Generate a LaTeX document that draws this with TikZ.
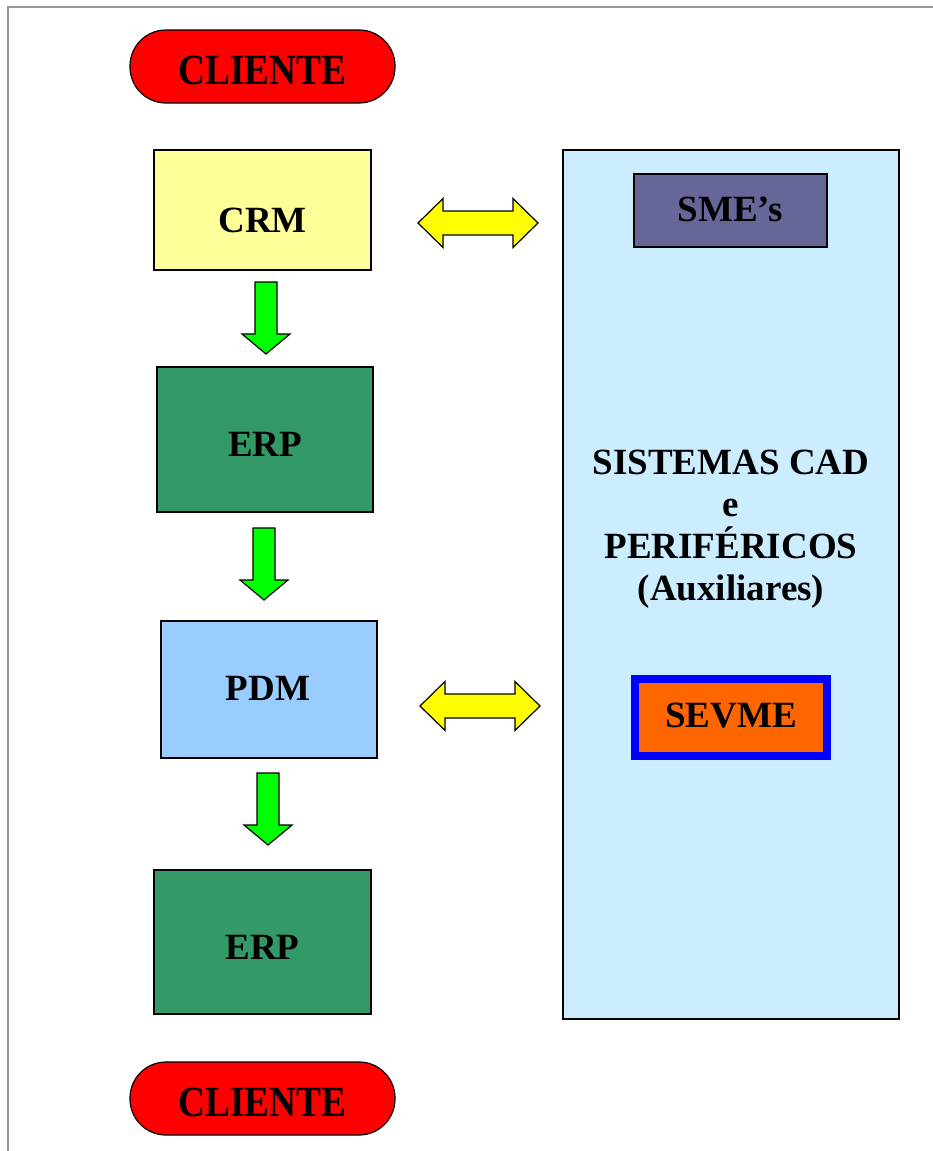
\documentclass[tikz,border=0pt]{standalone}
\usepackage{fontspec}
\setmainfont{Liberation Serif}
\usepackage{graphicx}
\definecolor{cliente}{HTML}{FF0000}
\definecolor{crm}{HTML}{FFFF99}
\definecolor{erp}{HTML}{339966}
\definecolor{pdm}{HTML}{99CCFF}
\definecolor{cadbox}{HTML}{CCECFF}
\definecolor{sme}{HTML}{666699}
\definecolor{sevme}{HTML}{FF6600}
\definecolor{sevmeb}{HTML}{0000FF}
\definecolor{garrow}{HTML}{00FF00}
\definecolor{yarrow}{HTML}{FFFF00}
\definecolor{frame}{HTML}{999999}
\tikzset{
  lbl/.style={font=\fontsize{37}{42}\selectfont\bfseries},
  box/.style={draw=black, line width=1.2pt, inner sep=0pt, lbl},
  pill/.style={box, rounded corners=36pt, fill=cliente, minimum width=265pt, minimum height=73pt},
  downarr/.style={draw=black, line width=1.2pt, fill=garrow, line join=miter},
  dblarr/.style={draw=black, line width=1.2pt, fill=yarrow, line join=miter},
  pics/downblock/.style={code={
    \path[downarr] (-11,0) -- (11,0) -- (11,52) -- (24,52) -- (0,72) -- (-24,52) -- (-11,52) -- cycle;
  }},
  pics/dblblock/.style={code={
    \path[dblarr] (0,0) -- (25,-24.5) -- (25,-12) -- (95,-12) -- (95,-24.5) -- (120,0)
      -- (95,24.5) -- (95,12) -- (25,12) -- (25,24.5) -- cycle;
  }}
}
\begin{document}
\begin{tikzpicture}[x=1pt,y=-1pt]
\useasboundingbox (0,0) rectangle (933,1151);
\draw[frame, line width=1.5pt] (8,1151) -- (8,7) -- (933,7);

\node[pill] (c1) at (262.5,66.5) {};
\node (c1t) at (262.5,70) {\scalebox{0.87}[1]{\fontsize{43}{43}\selectfont\bfseries CLIENTE}};
\node[pill] (c2) at (262.5,1098.5) {};
\node (c2t) at (262.5,1102) {\scalebox{0.87}[1]{\fontsize{43}{43}\selectfont\bfseries CLIENTE}};

\node[box, fill=crm, minimum width=217pt, minimum height=120pt] (crm) at (262.5,210) {};
\node[lbl] (crmt) at (262.5,220) {CRM};
\node[box, fill=erp, minimum width=216pt, minimum height=145pt] (erp1) at (265,439.5) {};
\node[lbl] (erp1t) at (265,444) {ERP};
\node[box, fill=pdm, minimum width=216pt, minimum height=137pt] (pdm) at (269,689.5) {};
\node[lbl] (pdmt) at (268,688) {PDM};
\node[box, fill=erp, minimum width=217pt, minimum height=144pt] (erp2) at (262.5,942) {};
\node[lbl] (erp2t) at (262.5,947) {ERP};

\node[box, fill=cadbox, minimum width=336pt, minimum height=869pt] (cad) at (731,584.5) {};
\node[box, fill=sme, minimum width=193pt, minimum height=73pt] (sme) at (730.5,210.5) {};
\node[lbl] (smet) at (730.5,209) {SME’s};
\node[lbl, align=center] (cadt) at (731,529)
  {SISTEMAS CAD\\e\\PERIFÉRICOS\\(Auxiliares)};
\node[box, draw=sevmeb, line width=8pt, fill=sevme, minimum width=192pt, minimum height=77pt] (sevme) at (731,717.5) {};
\node[lbl] (sevmet) at (731,716) {SEVME};

\coordinate (g1) at (266,282);
\coordinate (g2) at (264,528);
\coordinate (g3) at (268,773);
\pic at (g1) {downblock};
\pic at (g2) {downblock};
\pic at (g3) {downblock};

\coordinate (y1) at (418,223);
\coordinate (y2) at (420,706);
\pic at (y1) {dblblock};
\pic at (y2) {dblblock};
\end{tikzpicture}
\end{document}
